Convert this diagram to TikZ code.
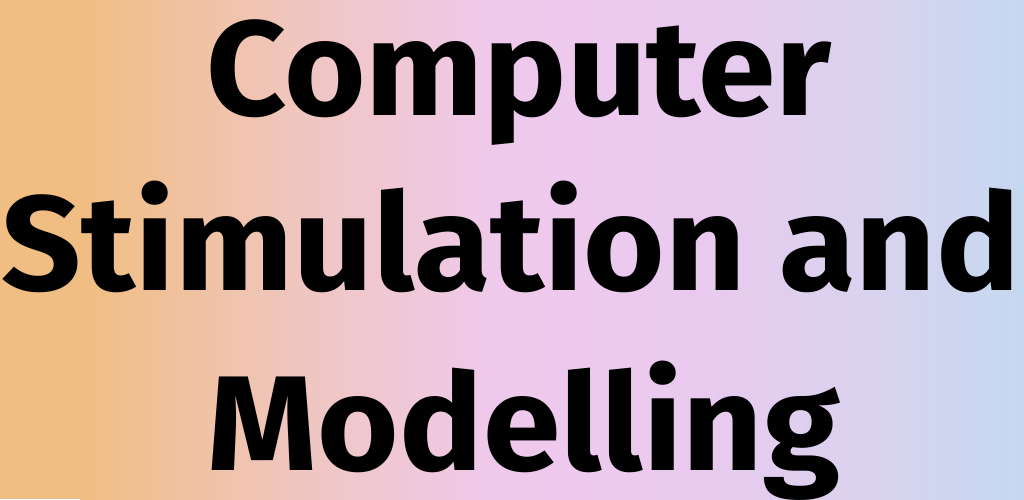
\documentclass[tikz,border=0pt]{standalone}
\usepackage{fontspec}
\newfontfamily\titlefamily{Fira Sans}
\begin{document}
\begin{tikzpicture}[x=1pt,y=1pt,
  title/.style={font=\titlefamily\bfseries\fontsize{135}{135}\selectfont, anchor=base, inner sep=0pt, xscale=1.035}]
  \definecolor{bgA}{HTML}{F0BE82}
  \definecolor{bgB}{HTML}{F0C6C0}
  \definecolor{bgC}{HTML}{EFC9EC}
  \definecolor{bgD}{HTML}{E9CAEE}
  \definecolor{bgE}{HTML}{D8D3EF}
  \definecolor{bgF}{HTML}{C5D8F0}
  \useasboundingbox (0,0) rectangle (1024,499);
  % soft horizontal gradient background
  \fill[bgA] (0,0) rectangle (81,499);
  \shade[left color=bgA, right color=bgB] (80,0) rectangle (301,499);
  \shade[left color=bgB, right color=bgC] (300,0) rectangle (501,499);
  \shade[left color=bgC, right color=bgD] (500,0) rectangle (701,499);
  \shade[left color=bgD, right color=bgE] (700,0) rectangle (881,499);
  \shade[left color=bgE, right color=bgF] (880,0) rectangle (1024,499);
  % title lines
  \node[title] (l1) at (519,384) {Computer};
  \node[title] (l2) at (511,209) {Stimulation and};
  \node[title] (l3) at (524,29) {Modelling};
\end{tikzpicture}
\end{document}
